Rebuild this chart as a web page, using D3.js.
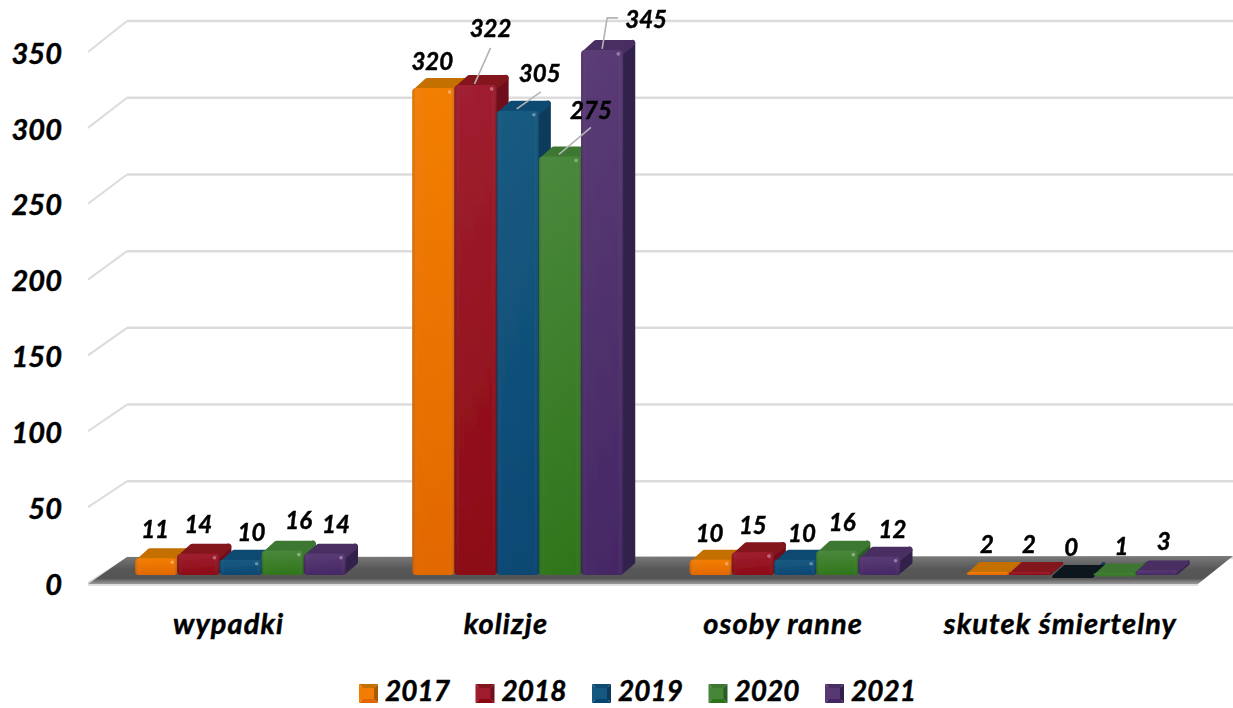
<!DOCTYPE html>
<html>
<head>
<meta charset="utf-8">
<script src="https://cdn.jsdelivr.net/npm/d3@7"></script>
<style>
  html, body { margin: 0; background: #fff; }
  svg { display: block; }
  text { font-family: Lato, "Open Sans", sans-serif; font-weight: 700; font-style: italic; fill: #000; stroke: #000; stroke-width: 0.45px; }
</style>
</head>
<body>
<svg id="chart" width="1233" height="708"></svg>
<script>
// Dane
const categories = ["wypadki", "kolizje", "osoby ranne", "skutek śmiertelny"];
const years = ["2017", "2018", "2019", "2020", "2021"];
const values2017 = [11, 320, 10, 2];
const values2018 = [14, 322, 15, 2];
const values2019 = [10, 305, 10, 0];
const values2020 = [16, 275, 16, 1];
const values2021 = [14, 345, 12, 3];
const seriesValues = [values2017, values2018, values2019, values2020, values2021];
const ticks = [0, 50, 100, 150, 200, 250, 300, 350];

// Kolory serii
const colors = [
  { light: "#f27d02", dark: "#e26600", top: "#c47003", side: "#a85a04" },
  { light: "#9e1c2d", dark: "#8a0712", top: "#83131e", side: "#6f101b" },
  { light: "#14587f", dark: "#074571", top: "#0f4a70", side: "#0c3a5c" },
  { light: "#478639", dark: "#2c7418", top: "#3d7731", side: "#2a5c25" },
  { light: "#583873", dark: "#432563", top: "#492e62", side: "#31204c" }
];

// Przesunięcia etykiet względem środka górnej krawędzi słupka [dx, dy]
const labelOffsets = [
  [[-1, -29], [0, -29], [11, -27], [16, -30], [11, -29]],
  [[-1, -26], [15, -56], [22, -37], [31, -46], [44, -30]],
  [[-1, -26], [0, -27], [7, -26], [5, -28], [13, -27]],
  [[-1, -27], [-1, -27], [-1, -27], [7, -27], [7, -29]]
];
// Linie odniesienia [kategoria, seria, punkty względem słupka]
const leaders = [
  [1, 1, [[-1, -1], [15, -37]]],
  [1, 2, [[-1, -2], [23, -19]]],
  [1, 3, [[-1, -2], [31, -29]]],
  [1, 4, [[0, -1], [5, -32], [16, -32]]]
];

const svg = d3.select("#chart");
const defs = svg.append("defs");

const depthX = 12, depthY = 10;
const barBase = 575, barsWidth = 211, barsInset = 47;

const x = d3.scaleBand().domain(categories).range([88, 1197]);
const xYear = d3.scaleBand().domain(years).range([0, barsWidth]);
const y = d3.scaleLinear().domain([0, 350]).range([barBase, barBase - 350 * 1.522]);
const yWall = d3.scaleLinear().domain([0, 350]).range([558, 21]);
const yFront = d3.scaleLinear().domain([0, 350]).range([584, 53]);

// Gradienty
colors.forEach((c, i) => {
  const g = defs.append("linearGradient").attr("id", "front" + i)
    .attr("x1", 0).attr("y1", 0).attr("x2", 0).attr("y2", 1);
  g.append("stop").attr("offset", "0%").attr("stop-color", c.light);
  g.append("stop").attr("offset", "100%").attr("stop-color", c.dark);
});
const sheen = defs.append("linearGradient").attr("id", "sheen");
sheen.append("stop").attr("offset", "0%").attr("stop-color", "#000").attr("stop-opacity", 0.14);
sheen.append("stop").attr("offset", "12%").attr("stop-color", "#fff").attr("stop-opacity", 0.02);
sheen.append("stop").attr("offset", "88%").attr("stop-color", "#fff").attr("stop-opacity", 0.01);
sheen.append("stop").attr("offset", "100%").attr("stop-color", "#000").attr("stop-opacity", 0.16);

const floorGrad = defs.append("linearGradient").attr("id", "floor")
  .attr("x1", 0).attr("y1", 0).attr("x2", 0).attr("y2", 1);
floorGrad.append("stop").attr("offset", "0%").attr("stop-color", "#7a7a7a");
floorGrad.append("stop").attr("offset", "45%").attr("stop-color", "#585858");
floorGrad.append("stop").attr("offset", "80%").attr("stop-color", "#555");
floorGrad.append("stop").attr("offset", "100%").attr("stop-color", "#9a9a9a");

const soft = defs.append("filter").attr("id", "soft");
soft.append("feGaussianBlur").attr("stdDeviation", 0.6);

// Siatka
const grid = svg.append("g").attr("stroke", "#dcdcdc").attr("fill", "none");
grid.selectAll(".wall").data(ticks).join("line").attr("class", "wall")
  .attr("x1", 127).attr("x2", 1233)
  .attr("y1", d => yWall(d)).attr("y2", d => yWall(d))
  .attr("stroke-width", 2.5);
grid.selectAll(".edge").data(ticks).join("line").attr("class", "edge")
  .attr("x1", 88).attr("x2", 127)
  .attr("y1", d => yFront(d) - 1).attr("y2", d => yWall(d))
  .attr("stroke-width", 2);

// Podłoga
svg.append("line").attr("x1", 88).attr("x2", 1198).attr("y1", 585).attr("y2", 585)
  .attr("stroke", "#dedede").attr("stroke-width", 2);
svg.append("path")
  .attr("d", d3.line()([[127, yWall(0) - 1], [1233, yWall(0) - 2], [1198, 584], [88, 584]]) + "Z")
  .attr("fill", "url(#floor)")
  .attr("filter", "url(#soft)");

// Słupki
const barsLayer = svg.append("g").attr("filter", "url(#soft)");
categories.forEach((cat, ci) => {
  const group = barsLayer.append("g").attr("transform", `translate(${x(cat) + barsInset},0)`);
  years.forEach((year, si) => {
    const v = seriesValues[si][ci];
    const c = colors[si];
    const w = xYear.bandwidth();
    const x0 = xYear(year);
    const yt = y(v);
    const h = barBase - yt;
    const flatDark = v === 0 ? "#07161f" : null;
    const r = h > 8 ? 3 : 1.5; // zaokrąglenie krawędzi

    group.append("path")
      .attr("d", d3.line()([[x0 + w - r, yt + r], [x0 + w + depthX - r, yt - depthY + r], [x0 + w + depthX - r, barBase - depthY - r], [x0 + w - r, barBase - r]]) + "Z")
      .attr("fill", c.side).attr("stroke", c.side).attr("stroke-width", r * 2).attr("stroke-linejoin", "round");
    group.append("path")
      .attr("d", d3.line()([[x0 + r + 1, yt + r], [x0 + depthX + r, yt - depthY + r], [x0 + w + depthX - r, yt - depthY + r], [x0 + w - r, yt + r]]) + "Z")
      .attr("fill", flatDark || c.top).attr("stroke", flatDark || c.top)
      .attr("stroke-width", r * 2).attr("stroke-linejoin", "round");
    if (h > 0) {
      const rx = Math.min(4, h / 2);
      group.append("rect").attr("x", x0).attr("y", yt).attr("width", w).attr("height", h).attr("rx", rx)
        .attr("fill", `url(#front${si})`);
      group.append("rect").attr("x", x0).attr("y", yt).attr("width", w).attr("height", h).attr("rx", rx)
        .attr("fill", "url(#sheen)");
      if (h > 8) {
        group.append("circle").attr("cx", x0 + w - 5).attr("cy", yt + 4).attr("r", 1.8)
          .attr("fill", "#fff").attr("opacity", 0.35);
      }
    }
  });
});

// Linie odniesienia
svg.append("g").selectAll("path").data(leaders).join("path")
  .attr("d", ([ci, si, pts]) => {
    const cx = x(categories[ci]) + barsInset + xYear(years[si]) + xYear.bandwidth() / 2;
    const cy = y(seriesValues[si][ci]);
    return d3.line()(pts.map(p => [cx + p[0], cy + p[1]]));
  })
  .attr("fill", "none").attr("stroke", "#b3b3b3").attr("stroke-width", 1.6);

// Etykiety danych
const labels = svg.append("g").attr("font-size", 24).attr("text-anchor", "middle");
categories.forEach((cat, ci) => {
  years.forEach((year, si) => {
    const v = seriesValues[si][ci];
    const off = labelOffsets[ci][si];
    labels.append("text")
      .attr("x", x(cat) + barsInset + xYear(year) + xYear.bandwidth() / 2 + off[0])
      .attr("y", y(v) + off[1])
      .attr("dy", "0.35em")
      .text(v);
  });
});

// Osie
const yAxis = svg.append("g").attr("transform", "translate(62,1)")
  .call(d3.axisLeft(yFront).tickValues(ticks).tickSize(0).tickPadding(0));
yAxis.select(".domain").remove();
yAxis.selectAll("text").attr("font-size", 29).attr("fill", "#000");
yAxis.attr("font-family", null).attr("font-size", null);

const xAxis = svg.append("g").attr("transform", "translate(2,613)")
  .call(d3.axisBottom(x).tickSize(0).tickPadding(0));
xAxis.select(".domain").remove();
xAxis.selectAll("text").attr("font-size", 29).attr("dy", "0.72em").attr("fill", "#000")
  .style("letter-spacing", "1.1px");
xAxis.attr("font-family", null).attr("font-size", null);

// Legenda
const legendX = d3.scalePoint().domain(years).range([359, 825]);
const legend = svg.append("g").selectAll("g").data(years).join("g")
  .attr("transform", d => `translate(${legendX(d)},684)`);
legend.each(function (d, i) {
  const g = d3.select(this), c = colors[i];
  const s = 19;
  const inner = [[4, 4], [s - 4, 4], [s - 4, s - 4], [4, s - 4]];
  const faces = [
    [[0, 0], [s, 0], inner[1], inner[0], c.top],
    [[s, 0], [s, s], inner[2], inner[1], c.side],
    [[s, s], [0, s], inner[3], inner[2], c.dark],
    [[0, s], [0, 0], inner[0], inner[3], c.light]
  ];
  g.append("rect").attr("x", 3).attr("y", 3).attr("width", s - 6).attr("height", s - 6).attr("fill", c.light);
  g.selectAll("path").data(faces).join("path")
    .attr("d", f => d3.line()(f.slice(0, 4)) + "Z").attr("fill", f => f[4]);
  g.append("text").attr("x", 26).attr("y", 17).attr("font-size", 28).text(d);
});
</script>
</body>
</html>
